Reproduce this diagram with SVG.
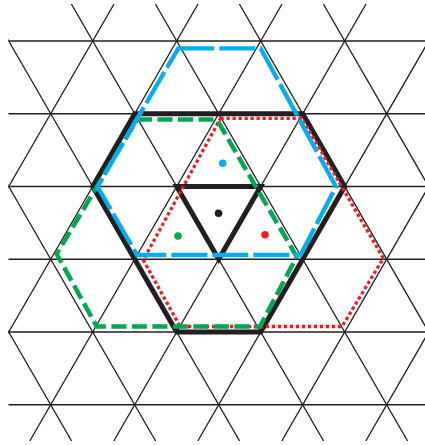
<svg xmlns="http://www.w3.org/2000/svg" width="425" height="445" viewBox="0 0 425 445">
<defs>
<clipPath id="clip"><rect x="8.3" y="4" width="420" height="437"/></clipPath>
<style>
.grid{fill:none;stroke:#231f20;stroke-width:1.3}
.thick{fill:none;stroke:#231f20;stroke-width:5;stroke-linejoin:miter}
.red{fill:none;stroke:#ed1c24;stroke-width:3.3;stroke-dasharray:3.3 2.7}
.green{fill:none;stroke:#00a651;stroke-width:4.5;stroke-dasharray:15 5.5}
.blue{fill:none;stroke:#00aeef;stroke-width:4.3;stroke-dasharray:36 5}
</style>
</defs>
<rect width="425" height="445" fill="#fff"/>
<g id="lattice" clip-path="url(#clip)" class="grid">
<path d="M8.3 41H430M8.3 113.75H430M8.3 186.5H430M8.3 259.25H430M8.3 332H430M8.3 404.75H430"/>
<path d="M114.06 4L-138.24 441M198.06 4L-54.24 441M282.06 4L29.76 441M366.06 4L113.76 441M450.06 4L197.76 441M534.06 4L281.76 441M618.06 4L365.76 441"/>
<path d="M-180.66 4L71.64 441M-96.66 4L155.64 441M-12.66 4L239.64 441M71.34 4L323.64 441M155.34 4L407.64 441M239.34 4L491.64 441M323.34 4L575.64 441"/>
</g>
<g id="black-hexagon">
<polygon class="thick" points="134.7,113.75 302.7,113.75 344.7,186.5 260.7,332 176.7,332 92.7,186.5"/>
</g>
<g id="black-triangle">
<polygon class="thick" points="176.7,186.5 260.7,186.5 218.7,259.25"/>
</g>
<g id="red-hexagon">
<polygon class="red" points="220.5,118.3 302,118.3 383.3,258.3 342,326.5 180,326.5 143.3,260"/>
</g>
<g id="green-hexagon">
<polygon class="green" points="137,119.5 216.7,119.5 296.7,256.7 260,326.5 96.7,326.5 56.7,254"/>
</g>
<g id="blue-hexagon">
<polygon class="blue" points="178.3,48.3 260.5,48.3 336,186.7 300.5,255 137,255 97.5,186.7"/>
</g>
<g id="dots">
<circle cx="222.7" cy="163.3" r="3.8" fill="#00aeef"/>
<circle cx="218.5" cy="213.2" r="3.8" fill="#231f20"/>
<circle cx="178" cy="236" r="3.8" fill="#00a651"/>
<circle cx="265" cy="234.8" r="3.8" fill="#ed1c24"/>
</g>
</svg>
